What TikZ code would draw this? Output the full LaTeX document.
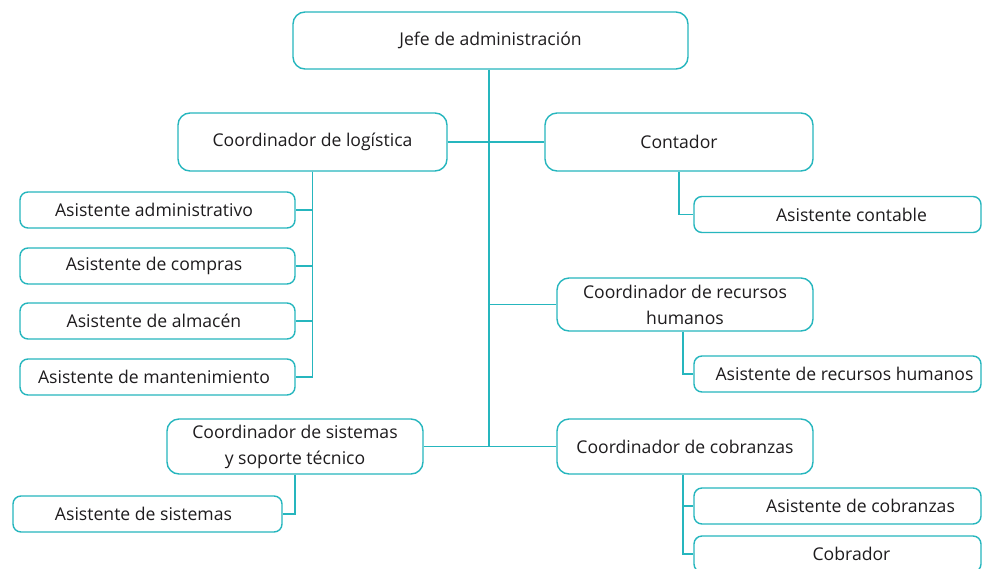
\documentclass[tikz,border=0pt]{standalone}
\usepackage{fontspec}
\setmainfont{Open Sans}
\definecolor{tl}{RGB}{38,182,190}
\definecolor{ink}{RGB}{30,28,30}
\begin{document}
\begin{tikzpicture}[x=1pt,y=-1pt,
  box/.style={draw=tl, line width=1.4pt, rounded corners=12pt, fill=white,
    align=center, inner sep=0pt, text=ink, font=\fontsize{17.6}{26}\selectfont},
  sbox/.style={box, rounded corners=8pt, minimum height=36pt},
  conn/.style={draw=tl, line width=1.4pt}]
\useasboundingbox (0,0) rectangle (982,568);
\clip (0,0) rectangle (982,568);
\fill[white] (0,0) rectangle (982,568);
\coordinate (t) at (489,446);
\node[box, minimum width=395pt, minimum height=57pt] (jefe) at (490.5,40.5) {Jefe de administración};
\node[box, minimum width=269pt, minimum height=58pt] (log) at (312.5,142) {Coordinador de logística};
\node[box, minimum width=268pt, minimum height=58pt] (con) at (679,142) {Contador};
\node[sbox, minimum width=275pt] (a1) at (157.5,210) {\hspace*{-7pt}Asistente administrativo};
\node[sbox, minimum width=275pt] (a2) at (157.5,266) {\hspace*{-7pt}Asistente de compras};
\node[sbox, minimum width=275pt] (a3) at (157.5,321) {\hspace*{-7pt}Asistente de almacén};
\node[sbox, minimum width=275pt] (a4) at (157.5,377) {\hspace*{-7pt}Asistente de mantenimiento};
\node[sbox, minimum width=287pt] (ac) at (837.5,214.5) {\hspace*{28pt}Asistente contable};
\node[box, minimum width=256pt, minimum height=53pt] (rh) at (685,304.5) {Coordinador de recursos\\humanos};
\node[sbox, minimum width=287pt] (arh) at (837.5,374) {\hspace*{14pt}Asistente de recursos humanos};
\node[box, minimum width=256pt, minimum height=55pt] (cs) at (295,446.5) {Coordinador de sistemas\\y soporte técnico};
\node[box, minimum width=256pt, minimum height=55pt] (cc) at (685,446.5) {Coordinador de cobranzas};
\node[sbox, minimum width=269pt] (as) at (147.5,514) {\hspace*{-8pt}Asistente de sistemas};
\node[sbox, minimum width=287pt] (acb) at (837.5,506) {\hspace*{46pt}Asistente de cobranzas};
\node[sbox, minimum width=287pt] (cob) at (837.5,554) {\hspace*{28pt}Cobrador};
% links
\draw[conn] (jefe.south -| t) -- (t);
\draw[conn] (log.east) -- (con.west);
\draw[conn] (t |- rh.west) -- (rh.west);
\draw[conn] (cs.east) -- (cc.west);
\draw[conn] (log.south) |- (a1.east);
\draw[conn] (log.south) |- (a2.east);
\draw[conn] (log.south) |- (a3.east);
\draw[conn] (log.south) |- (a4.east);
\draw[conn] (con.south) |- (ac.west);
\draw[conn] ([xshift=-2pt]rh.south) |- (arh.west);
\draw[conn] ([xshift=-2pt]cc.south) |- (acb.west);
\draw[conn] ([xshift=-2pt]cc.south) |- (cob.west);
\draw[conn] (cs.south) |- (as.east);
\end{tikzpicture}
\end{document}
